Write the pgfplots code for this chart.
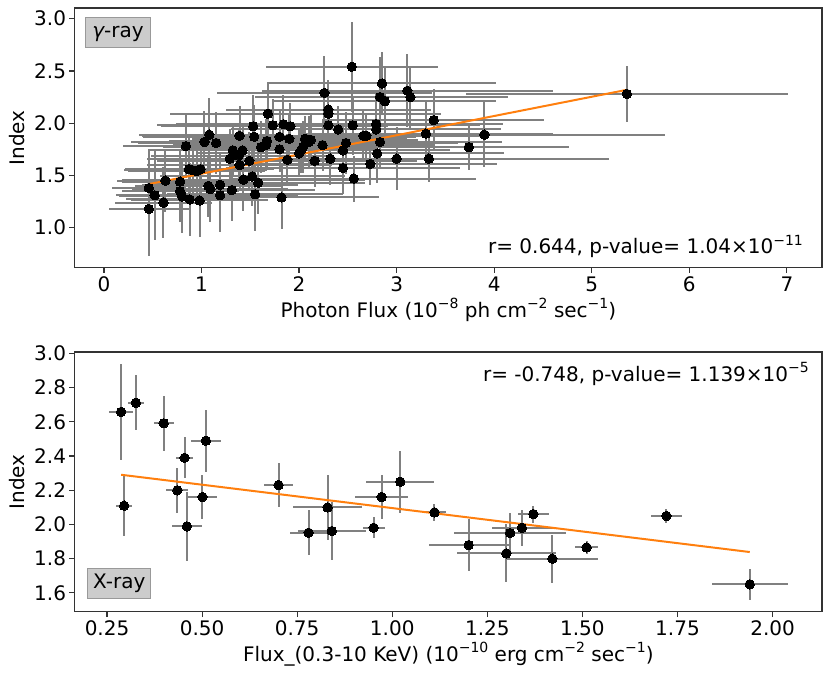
\documentclass[border=0pt]{standalone}
\usepackage{fontspec}
\setmainfont{DejaVu Sans}
\usepackage{pgfplots}
\usepackage{pgfplotstable}
\pgfplotsset{compat=1.18}
\newcommand\fs{\fontsize{20bp}{24bp}\selectfont}
\newcommand\sups[1]{\raisebox{0.42em}{\fontsize{14bp}{14bp}\selectfont #1}}
\definecolor{mplorange}{HTML}{FF7F0E}
\definecolor{errgray}{HTML}{808080}
\definecolor{boxfill}{HTML}{CCCCCC}
\definecolor{boxedge}{HTML}{999999}

\pgfplotstableread{
x y ex ey
2.54 2.54 0.88 0.43
2.85 2.38 1.17 0.30
3.11 2.31 1.49 0.35
3.14 2.25 1.00 0.30
2.83 2.25 1.28 0.38
2.88 2.21 1.14 0.32
2.26 2.29 1.10 0.35
2.30 2.13 1.05 0.28
2.30 2.09 1.15 0.30
1.68 2.09 1.00 0.30
1.73 1.98 1.19 0.25
1.84 1.99 1.10 0.28
1.91 1.97 1.00 0.22
1.53 1.97 0.95 0.30
2.30 1.98 1.20 0.25
2.40 1.94 1.10 0.22
2.55 1.98 1.30 0.28
2.79 1.99 1.30 0.30
2.79 1.94 1.28 0.26
3.38 2.03 1.13 0.30
3.30 1.90 1.30 0.30
3.90 1.89 1.85 0.31
3.74 1.77 1.03 0.22
2.66 1.88 1.20 0.25
2.69 1.88 1.10 0.22
2.83 1.82 1.25 0.25
2.80 1.71 1.30 0.28
3.00 1.66 1.20 0.30
3.33 1.66 1.85 0.22
2.73 1.61 1.30 0.20
2.48 1.81 1.15 0.30
2.45 1.74 1.10 0.25
2.45 1.57 1.20 0.25
2.56 1.47 1.25 0.22
2.32 1.66 1.10 0.25
2.16 1.64 1.05 0.25
2.24 1.79 1.15 0.25
2.06 1.85 1.05 0.22
2.12 1.84 1.10 0.25
2.04 1.77 1.00 0.25
2.00 1.71 1.05 0.22
1.90 1.85 1.00 0.25
1.80 1.87 1.40 0.25
1.80 1.75 1.00 0.22
1.88 1.65 1.05 0.25
1.67 1.83 1.00 0.28
1.66 1.79 0.95 0.25
1.61 1.77 1.00 0.25
1.54 1.87 0.95 0.30
1.39 1.88 1.00 0.28
1.32 1.74 0.85 0.25
1.42 1.74 0.90 0.25
1.29 1.66 0.85 0.28
1.38 1.69 0.90 0.25
1.39 1.60 0.95 0.25
1.49 1.64 0.95 0.28
1.43 1.46 1.25 0.30
1.52 1.49 0.95 0.28
1.58 1.43 1.10 0.30
1.55 1.32 0.90 0.35
1.82 1.29 1.00 0.30
1.31 1.36 0.85 0.30
1.19 1.41 0.80 0.30
1.19 1.31 0.80 0.35
1.07 1.40 0.75 0.30
1.09 1.37 0.80 0.32
0.98 1.26 0.70 0.35
0.88 1.27 0.65 0.35
0.78 1.35 0.60 0.30
0.80 1.30 0.65 0.35
0.78 1.44 0.60 0.30
0.63 1.45 0.50 0.30
0.61 1.24 0.50 0.34
0.52 1.31 0.40 0.43
0.46 1.38 0.38 0.37
0.46 1.18 0.41 0.45
0.84 1.78 0.65 0.30
0.87 1.56 0.65 0.30
0.91 1.55 0.70 0.28
0.95 1.54 0.70 0.30
0.99 1.56 0.75 0.28
1.03 1.82 0.75 0.30
1.08 1.89 0.72 0.35
1.15 1.81 0.80 0.30
5.36 2.28 1.65 0.27
2.10 1.82 1.05 0.25
2.02 1.74 1.00 0.22
}\gtab

\pgfplotstableread{
x y ex ey
0.287 2.658 0.032 0.28
0.326 2.711 0.020 0.16
0.399 2.591 0.026 0.16
0.510 2.489 0.040 0.18
0.454 2.389 0.023 0.12
0.435 2.199 0.029 0.13
0.295 2.109 0.021 0.18
0.501 2.160 0.039 0.13
0.460 1.988 0.040 0.20
0.701 2.230 0.039 0.13
0.830 2.099 0.090 0.19
0.780 1.951 0.050 0.13
0.841 1.961 0.090 0.17
0.951 1.980 0.029 0.06
0.972 2.160 0.070 0.13
1.021 2.249 0.090 0.18
1.111 2.070 0.030 0.05
1.201 1.879 0.105 0.15
1.310 1.949 0.148 0.12
1.300 1.830 0.130 0.17
1.341 1.980 0.080 0.105
1.371 2.060 0.040 0.05
1.421 1.799 0.120 0.14
1.511 1.865 0.030 0.04
1.721 2.049 0.040 0.04
1.940 1.649 0.100 0.09
}\xtab

\pgfplotsset{
  common/.style={
    scale only axis, width=747.3bp, height=259.7bp, anchor=south west,
    axis line style={line width=1.2bp, draw=black!80},
    tick style={line width=1.2bp, draw=black!80},
    tick align=outside, major tick length=5.3bp,
    xtick pos=lower, ytick pos=left,
    ticklabel style={font=\fs},
    /pgf/number format/assume math mode=true,
    xticklabel style={inner sep=0pt, anchor=north, yshift=-3.5bp},
    yticklabel style={inner sep=0pt, anchor=east, xshift=-3.2bp},
    label style={font=\fs},
    xlabel style={at={(axis description cs:0.5,-0.19)}, anchor=base, inner sep=0pt},
    ylabel style={at={(axis description cs:-0.0669,0.5)}, anchor=base, inner sep=0pt},
    ylabel={Index},
  },
  ebars/.style={only marks, mark=none,
    error bars/.cd, x dir=both, x explicit, y dir=both, y explicit,
    error mark=none, error bar style={line width=2bp, color=errgray}},
  dots/.style={only marks, mark=*, mark size=4.7bp, mark options={fill=black, draw=black, line width=0pt}},
}

\begin{document}
\begin{tikzpicture}
\useasboundingbox (0,0) rectangle (831bp,679bp);
\begin{axis}[common, at={(74.7bp,411.3bp)},
  xmin=-0.30, xmax=7.36, ymin=0.617, ymax=3.102,
  xtick={0,1,2,3,4,5,6,7},
  ytick={1.0,1.5,2.0,2.5,3.0},
  yticklabel style={/pgf/number format/.cd, fixed, fixed zerofill, precision=1},
  xlabel={Photon Flux (10\sups{−8} ph cm\sups{−2} sec\sups{−1})},
]
\addplot[ebars] table[x=x, y=y, x error=ex, y error=ey] {\gtab};
\addplot[mplorange, line width=2bp] coordinates {(0.46,1.417) (5.36,2.319)};
\addplot[dots] table[x=x, y=y] {\gtab};
\node[draw=boxedge, fill=boxfill, line width=1bp, inner xsep=6.5bp, inner ysep=5bp,
  text height=15bp, text depth=5bp, anchor=north west, font=\fs]
  at (rel axis cs:0.0143,0.9654) {{\itshape γ}-ray};
\node[anchor=base east, inner sep=0pt, font=\fs] at (rel axis cs:0.9746,0.053)
  {r= 0.644, p-value= 1.04×10\sups{−11}};
\end{axis}

\begin{axis}[common, at={(74.7bp,67.3bp)},
  xmin=0.165, xmax=2.130, ymin=1.489, ymax=3.008,
  xtick={0.25,0.5,0.75,1.0,1.25,1.5,1.75,2.0},
  ytick={1.6,1.8,2.0,2.2,2.4,2.6,2.8,3.0},
  xticklabel style={/pgf/number format/.cd, fixed, fixed zerofill, precision=2},
  yticklabel style={/pgf/number format/.cd, fixed, fixed zerofill, precision=1},
  xlabel={Flux\_(0.3-10 KeV) (10\sups{−10} erg cm\sups{−2} sec\sups{−1})},
]
\addplot[ebars] table[x=x, y=y, x error=ex, y error=ey] {\xtab};
\addplot[mplorange, line width=2bp] coordinates {(0.287,2.290) (1.940,1.838)};
\addplot[dots] table[x=x, y=y] {\xtab};
\node[draw=boxedge, fill=boxfill, line width=1bp, inner xsep=5.6bp, inner ysep=5bp,
  text height=15bp, text depth=5bp, anchor=south west, font=\fs]
  at (rel axis cs:0.0165,0.05) {X-ray};
\node[anchor=base east, inner sep=0pt, font=\fs] at (rel axis cs:0.9826,0.887)
  {r= -0.748, p-value= 1.139×10\sups{−5}};
\end{axis}
\end{tikzpicture}
\end{document}
